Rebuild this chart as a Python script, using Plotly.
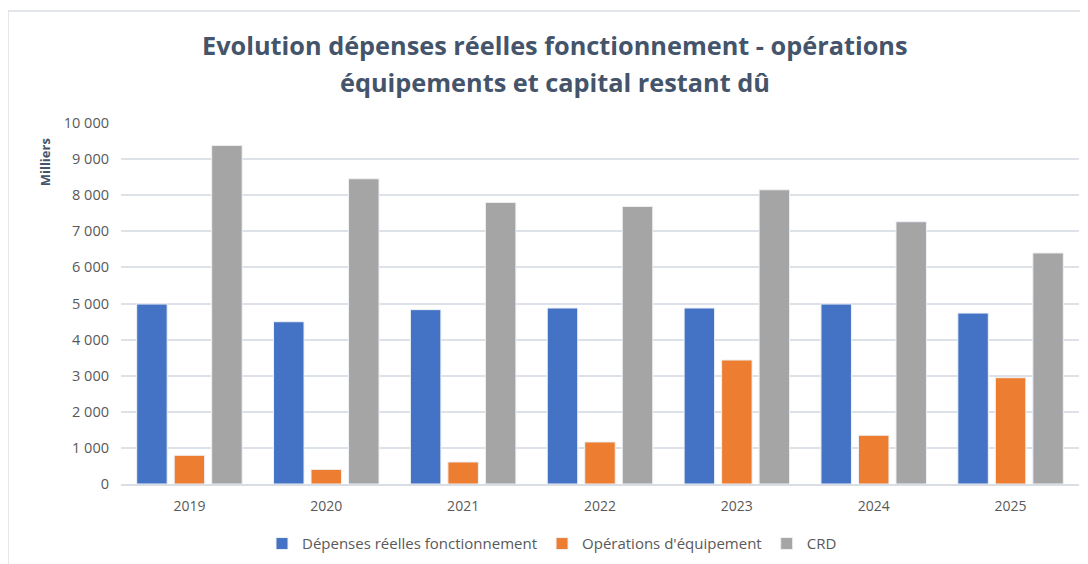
import plotly.graph_objects as go

years = ["2019", "2020", "2021", "2022", "2023", "2024", "2025"]
depenses = [4985, 4495, 4830, 4875, 4875, 4985, 4735]
operations = [795, 405, 610, 1165, 3435, 1350, 2945]
crd = [9380, 8455, 7800, 7690, 8150, 7265, 6400]

series = [
    ("Dépenses réelles fonctionnement", depenses, "#4472C4"),
    ("Opérations d'équipement", operations, "#ED7D31"),
    ("CRD", crd, "#A5A5A5"),
]

font = "Open Sans, Liberation Sans, sans-serif"

fig = go.Figure()
for name, vals, col in series:
    fig.add_trace(go.Bar(
        x=years, y=vals, name=name,
        marker=dict(color=col, line=dict(color="#EEF1F6", width=1)),
    ))

# la page HTML ajoute 8 px de marge : on décale le tracé en conséquence
fig.update_layout(
    width=1088, height=564,
    paper_bgcolor="white", plot_bgcolor="white",
    barmode="group", bargap=0.178, bargroupgap=0.187,
    margin=dict(l=113, r=17, t=115, b=88, autoexpand=False),
    font=dict(family=font, color="#595959", size=14),
    legend=dict(
        orientation="h", xref="container", yref="container",
        x=0.5, xanchor="center", y=0.05, yanchor="middle",
        font=dict(size=15, color="#595959"), itemwidth=30,
    ),
    xaxis=dict(
        showgrid=False, showline=True, linecolor="#D9DDE4", linewidth=1.5,
        ticks="", ticklabelstandoff=8, tickfont=dict(size=14, color="#595959"),
    ),
    yaxis=dict(
        range=[0, 10000], dtick=1000, tickformat=",",
        gridcolor="#DDE1E8", gridwidth=1.5, zeroline=False,
        ticks="", ticklabelstandoff=11,
        tickfont=dict(size=14.5, color="#595959"),
    ),
    separators=", ",
    shapes=[dict(
        type="rect", xref="paper", yref="paper",
        x0=-0.118, x1=1.03, y0=-0.26, y1=1.310,
        line=dict(color="#D9DDE4", width=1.5),
    )],
    annotations=[
        dict(
            text="<b>Evolution dépenses réelles fonctionnement - opérations</b>",
            xref="paper", yref="paper", x=0.453, y=1.216,
            xanchor="center", yanchor="middle", showarrow=False,
            font=dict(family=font, size=25.3, color="#44546A"),
        ),
        dict(
            text="<b>équipements et capital restant dû</b>",
            xref="paper", yref="paper", x=0.453, y=1.1136,
            xanchor="center", yanchor="middle", showarrow=False,
            font=dict(family=font, size=25.3, color="#44546A"),
        ),
        dict(
            text="<b>Milliers</b>", textangle=-90,
            xref="paper", yref="paper", x=-0.079, y=0.892,
            xanchor="center", yanchor="middle", showarrow=False,
            font=dict(family=font, size=13, color="#44546A"),
        ),
    ],
)

fig.write_html("out.html")
